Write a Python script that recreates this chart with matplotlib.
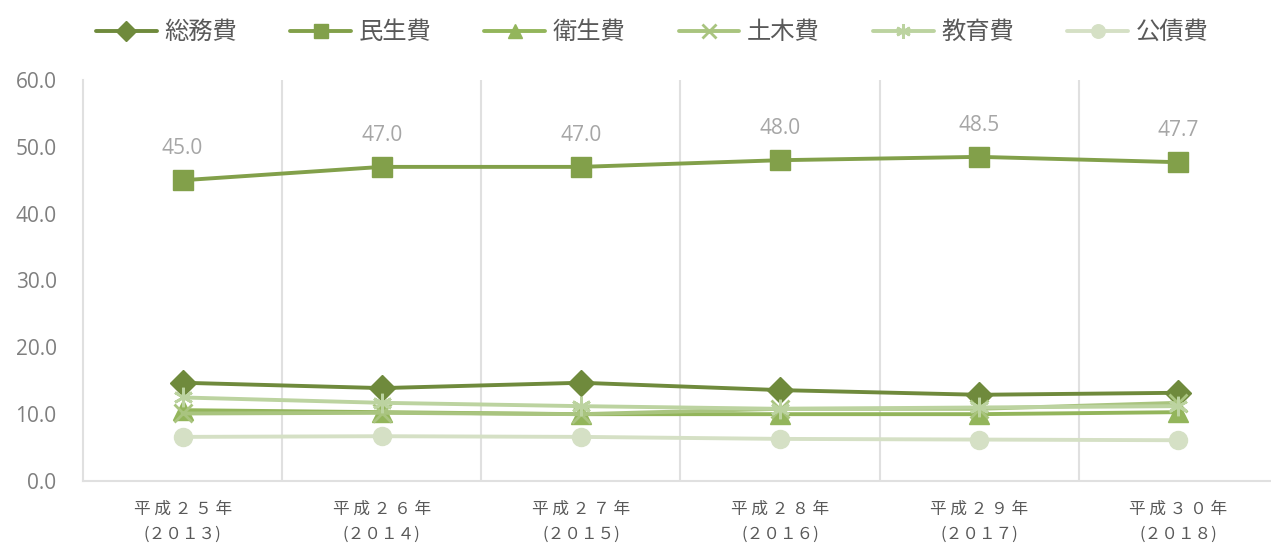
import matplotlib
matplotlib.use('Agg')
from matplotlib import pyplot as plt

plt.rcParams['font.family'] = ['Noto Sans CJK JP', 'DejaVu Sans']

years = ['平 成 ２ ５ 年\n(２０１３)', '平 成 ２ ６ 年\n(２０１４)', '平 成 ２ ７ 年\n(２０１５)',
         '平 成 ２ ８ 年\n(２０１６)', '平 成 ２ ９ 年\n(２０１７)', '平 成 ３ ０ 年\n(２０１８)']

soumu = [14.7, 13.9, 14.7, 13.6, 12.9, 13.2]
minsei = [45.0, 47.0, 47.0, 48.0, 48.5, 47.7]
eisei = [10.6, 10.3, 10.0, 10.0, 10.0, 10.3]
doboku = [10.1, 10.2, 10.0, 10.8, 10.8, 11.7]
kyouiku = [12.5, 11.7, 11.2, 10.8, 11.0, 11.2]
kousai = [6.6, 6.7, 6.6, 6.3, 6.2, 6.1]

series = [
    ('総務費', soumu, '#6f8a3c', 'D', 13),
    ('民生費', minsei, '#82a04a', 's', 14),
    ('衛生費', eisei, '#93b55b', '^', 14),
    ('土木費', doboku, '#a9c47f', 'x', 13),
    ('教育費', kyouiku, '#bcd3a0', (6, 2, 0), 14),
    ('公債費', kousai, '#d5e0c5', 'o', 13),
]

fig = plt.figure(figsize=(12.71, 5.47), dpi=100)
ax = fig.add_axes([83 / 1271, 66 / 547, 1195 / 1271, 401 / 547])

itr = list(range(len(years)))
for name, vals, col, mk, ms in series:
    ax.plot(itr, vals, color=col, lw=2.8, marker=mk, markersize=ms,
            markeredgewidth=2 if mk in ('x', (6, 2, 0)) else 1,
            markeredgecolor=col, label=name, solid_capstyle='round')

for i, v in enumerate(minsei):
    ax.annotate(f'{v:.1f}', (i, v), xytext=(0, 15), textcoords='offset points',
                ha='center', va='bottom', fontsize=15, color='#a6a6a6',
                family=['Open Sans', 'DejaVu Sans'])

ax.set_xlim(-0.5, 5.5)
ax.set_ylim(0, 60)
ax.set_yticks([0, 10, 20, 30, 40, 50, 60])
ax.set_yticklabels([f'{t:.1f}' for t in range(0, 70, 10)], family=['Open Sans', 'DejaVu Sans'])
ax.set_xticks(itr)
ax.set_xticklabels(years, fontsize=12, color='#595959', linespacing=1.65)
ax.tick_params(axis='y', labelsize=15, labelcolor='#7f7f7f', length=0, pad=19)
ax.tick_params(axis='x', length=0, pad=14)

for b in [0.5, 1.5, 2.5, 3.5, 4.5]:
    ax.axvline(b, color='#e0e0e0', lw=1.5, zorder=0)

for s in ['top', 'right']:
    ax.spines[s].set_visible(False)
for s in ['left', 'bottom']:
    ax.spines[s].set_color('#e0e0e0')
    ax.spines[s].set_linewidth(1.5)

leg = fig.legend(loc='upper left', bbox_to_anchor=(74 / 1271, 1.005), ncol=6, frameon=False,
                 fontsize=17.5, handlelength=2.5, columnspacing=2.2, handletextpad=0.3,
                 markerscale=0.75)
for t in leg.get_texts():
    t.set_color('#595959')

fig.savefig('out.png', dpi=100)
